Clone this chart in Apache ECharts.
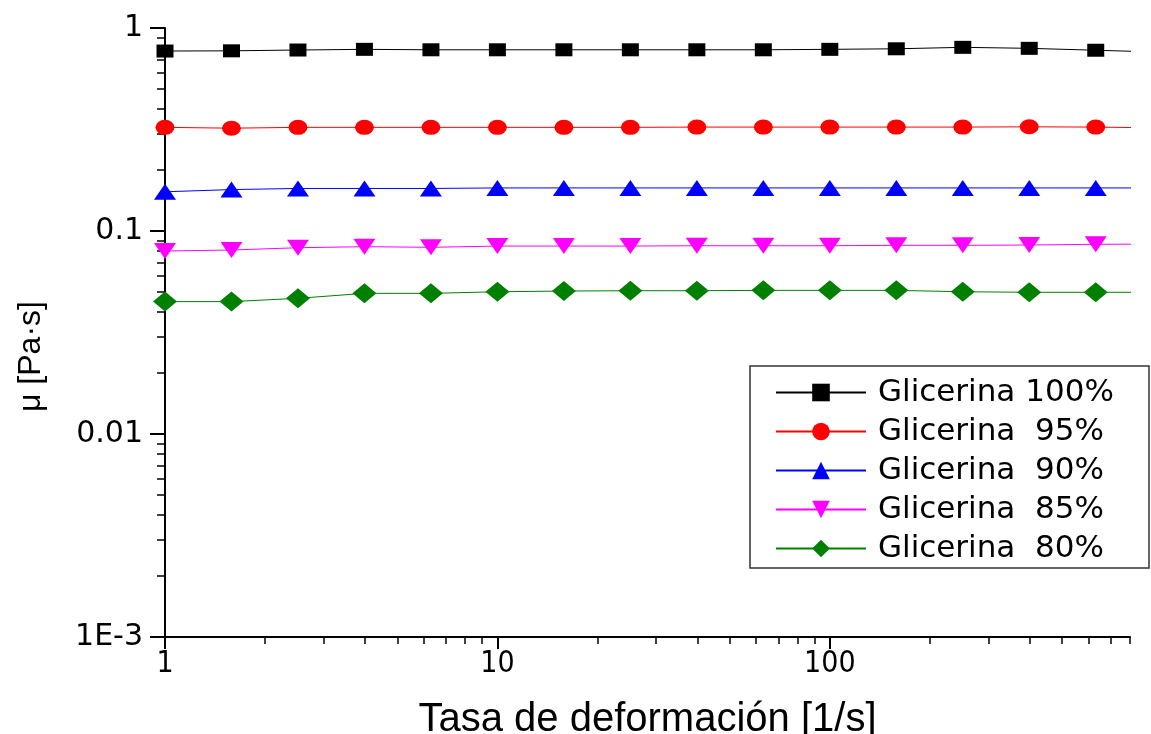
<!DOCTYPE html>
<html>
<head>
<meta charset="utf-8">
<script src="https://cdn.jsdelivr.net/npm/echarts@6/dist/echarts.min.js"></script>
<style>
html,body{margin:0;padding:0;background:#fff;}
#chart{width:1151px;height:734px;}
</style>
</head>
<body>
<div id="chart"></div>
<script>
// shear rate [1/s]
const shearRate = [1, 1.585, 2.512, 3.981, 6.31, 10, 15.85, 25.12, 39.81, 63.1, 100, 158.5, 251.2, 398.1, 631, 1000];
// viscosity [Pa·s]
const glic100 = [0.770, 0.772, 0.779, 0.785, 0.781, 0.781, 0.781, 0.781, 0.781, 0.781, 0.785, 0.790, 0.803, 0.794, 0.777, 0.760];
const glic95  = [0.324, 0.321, 0.324, 0.324, 0.324, 0.324, 0.324, 0.324, 0.325, 0.325, 0.325, 0.325, 0.325, 0.326, 0.325, 0.322];
const glic90  = [0.156, 0.160, 0.162, 0.162, 0.162, 0.163, 0.163, 0.163, 0.163, 0.163, 0.163, 0.163, 0.163, 0.163, 0.163, 0.163];
const glic85  = [0.0797, 0.0806, 0.0827, 0.0837, 0.0831, 0.0843, 0.0843, 0.0843, 0.0846, 0.0846, 0.0846, 0.0850, 0.0850, 0.0853, 0.0860, 0.0862];
const glic80  = [0.0449, 0.0449, 0.0466, 0.0493, 0.0493, 0.0502, 0.0506, 0.0508, 0.0508, 0.0510, 0.0510, 0.0510, 0.0502, 0.0499, 0.0499, 0.0499];
const seriesNames = ['Glicerina 100%', 'Glicerina  95%', 'Glicerina  90%', 'Glicerina  85%', 'Glicerina  80%'];

const xMajorTicks = [1, 10, 100];
const xTickLabels = ['1', '10', '100'];
const xMinorTicks = [2, 3, 4, 5, 6, 7, 8, 9, 20, 30, 40, 50, 60, 70, 80, 90, 200, 300, 400, 500, 600, 700, 800];
const yMajorTicks = [0.001, 0.01, 0.1, 1];
const yTickLabels = ['1E-3', '0.01', '0.1', '1'];
const yMinorTicks = [0.002, 0.003, 0.004, 0.005, 0.006, 0.007, 0.008, 0.009,
                     0.02, 0.03, 0.04, 0.05, 0.06, 0.07, 0.08, 0.09,
                     0.2, 0.3, 0.4, 0.5, 0.6, 0.7, 0.8, 0.9];

const styles = [
  {color: '#000000', symbol: 'rect', size: [17, 13], rotate: 0},
  {color: '#ff0000', symbol: 'circle', size: [19, 15], rotate: 0},
  {color: '#0000ff', symbol: 'triangle', size: [22, 16], rotate: 0},
  {color: '#ff00ff', symbol: 'triangle', size: [22, 16], rotate: 180},
  {color: '#008000', symbol: 'diamond', size: [24, 20], rotate: 0}
];
const allData = [glic100, glic95, glic90, glic85, glic80];

function pairs(ys) { return shearRate.map((x, i) => [x, ys[i]]); }

const chart = echarts.init(document.getElementById('chart'), null, {renderer: 'canvas'});

const axisLineStyle = {color: '#000', width: 2};
const narrowFont = "'Liberation Sans Narrow', 'DejaVu Sans Condensed', 'Liberation Sans', sans-serif";

function nearestLabel(v, ticks, labels) {
  let best = 0;
  ticks.forEach((t, i) => {
    if (Math.abs(Math.log10(t) - Math.log10(v)) < Math.abs(Math.log10(ticks[best]) - Math.log10(v))) best = i;
  });
  return labels[best];
}

chart.setOption({
  backgroundColor: '#fff',
  animation: false,
  grid: {left: 165, right: 21, top: 28, bottom: 97, containLabel: false, outerBoundsMode: 'none'},
  xAxis: [
    {
      type: 'log', logBase: 10, min: 1, max: 800,
      position: 'bottom',
      axisLine: {show: true, onZero: false, lineStyle: axisLineStyle},
      axisTick: {show: true, length: 12, lineStyle: {color: '#000', width: 2}, customValues: xMajorTicks},
      axisLabel: {
        show: true, customValues: xMajorTicks, margin: 12,
        fontFamily: narrowFont, fontSize: 30, color: '#000',
        formatter: v => nearestLabel(v, xMajorTicks, xTickLabels)
      },
      splitLine: {show: false},
      name: 'Tasa de deformación [1/s]', nameLocation: 'middle', nameGap: 63,
      nameTextStyle: {fontFamily: "'Liberation Sans', Arial, sans-serif", fontSize: 40, color: '#000'}
    },
    {
      type: 'log', logBase: 10, min: 1, max: 800,
      position: 'bottom',
      axisLine: {show: false, onZero: false},
      axisTick: {show: true, length: 7, lineStyle: {color: '#000', width: 1.5}, customValues: xMinorTicks},
      axisLabel: {show: false},
      splitLine: {show: false}
    }
  ],
  yAxis: [
    {
      type: 'log', logBase: 10, min: 0.001, max: 1,
      position: 'left',
      axisLine: {show: true, onZero: false, lineStyle: axisLineStyle},
      axisTick: {show: true, length: 15, lineStyle: {color: '#000', width: 2}, customValues: yMajorTicks},
      axisLabel: {
        show: true, customValues: yMajorTicks, margin: 22,
        fontFamily: "'DejaVu Sans', sans-serif", fontSize: 30, color: '#000',
        formatter: v => nearestLabel(v, yMajorTicks, yTickLabels)
      },
      splitLine: {show: false},
      name: 'μ [Pa·s]', nameLocation: 'middle', nameRotate: 90, nameGap: 118,
      nameTextStyle: {fontFamily: "'Liberation Sans', sans-serif", fontSize: 32, color: '#000', padding: [0, 48, 0, 0]}
    },
    {
      type: 'log', logBase: 10, min: 0.001, max: 1,
      position: 'left',
      axisLine: {show: false, onZero: false},
      axisTick: {show: true, length: 8, lineStyle: {color: '#000', width: 1.5}, customValues: yMinorTicks},
      axisLabel: {show: false},
      splitLine: {show: false}
    }
  ],
  legend: {
    orient: 'vertical', left: 750, top: 366,
    padding: [7, 6, 0, 25],
    itemWidth: 90, itemHeight: 22, itemGap: 0,
    backgroundColor: '#fff', borderColor: '#333', borderWidth: 1.5, borderRadius: 0,
    textStyle: {fontFamily: "'DejaVu Sans', sans-serif", fontSize: 31, color: '#000', lineHeight: 39, padding: [0, 0, 0, 7], width: 265},
    data: seriesNames
  },
  series: allData.map((ys, i) => ({
    name: seriesNames[i],
    type: 'line',
    xAxisIndex: 0, yAxisIndex: 0,
    data: pairs(ys),
    clip: true,
    symbol: styles[i].symbol,
    symbolSize: styles[i].size,
    symbolRotate: styles[i].rotate,
    showAllSymbol: true,
    lineStyle: {color: styles[i].color, width: 1},
    itemStyle: {color: styles[i].color},
    emphasis: {disabled: true}
  }))
});
</script>
</body>
</html>
